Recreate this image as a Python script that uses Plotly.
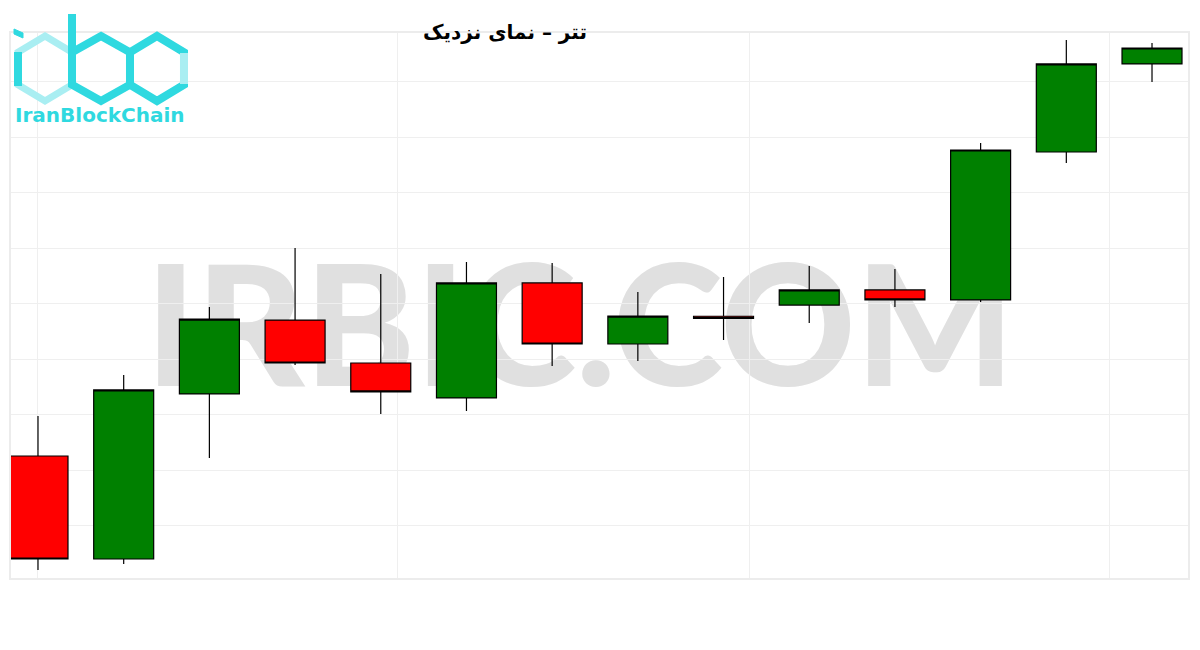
import plotly.graph_objects as go

# ---- data ----
candles = list(range(14))
open_  = [58126, 57198, 58685, 59351, 58964, 58649, 59685, 59135, 59385, 59486, 59622, 59532, 60865, 61658]
high   = [58486, 58856, 59468, 60000, 59766, 59874, 59865, 59604, 59739, 59838, 59811, 60946, 61874, 61847]
low    = [57099, 57153, 58108, 58946, 58504, 58532, 58937, 58982, 59171, 59324, 59468, 59514, 60766, 61496]
close  = [57198, 58721, 59360, 58964, 58703, 59685, 59135, 59387, 59365, 59622, 59532, 60883, 61658, 61802]

grid_x = [0, 4.2, 8.3, 12.5]
title_text = "تتر – نمای نزدیک"
watermark = "IRBIC.COM"
logo_text = "IranBlockChain"

W, H = 1200, 650
L, R, T, B = 11, 12, 33, 72
pw, ph = W - L - R, H - T - B


def px(x):
    return (x - L) / pw


def py(y):
    return 1 - (y - T) / ph


fig = go.Figure()
fig.add_trace(go.Candlestick(
    x=candles, open=open_, high=high, low=low, close=close,
    increasing=dict(fillcolor="#008000", line=dict(color="black", width=1.2)),
    decreasing=dict(fillcolor="#ff0000", line=dict(color="black", width=1.2)),
    whiskerwidth=0, showlegend=False, hoverinfo="skip",
))

shapes = []
# watermark text behind the candles
shapes.append(dict(
    type="rect", xref="paper", yref="paper",
    x0=px(100), x1=px(1060), y0=py(385), y1=py(253),
    line=dict(width=0), fillcolor="rgba(0,0,0,0)", layer="below",
    label=dict(text=watermark, font=dict(family="Lato", size=167, color="#e0e0e0", weight=900),
               textposition="middle center"),
))


# logo hexagons
def hexpath(cx, top, bot, half_w):
    h = bot - top
    pts = [(cx, top), (cx + half_w, top + h * 0.25), (cx + half_w, top + h * 0.75),
           (cx, bot), (cx - half_w, top + h * 0.75), (cx - half_w, top + h * 0.25)]
    return "M " + " L ".join(f"{px(a):.5f},{py(b):.5f}" for a, b in pts) + " Z"


def seg(points):
    return "M " + " L ".join(f"{px(a):.5f},{py(b):.5f}" for a, b in points)


cyan = "#2fd9e0"
light = "#a9eef2"
shapes.append(dict(type="path", xref="paper", yref="paper", path=hexpath(45, 36, 101, 27),
                   line=dict(color=light, width=7), layer="above"))
shapes.append(dict(type="path", xref="paper", yref="paper", path=hexpath(101, 36, 101, 29),
                   line=dict(color=cyan, width=8), layer="above"))
shapes.append(dict(type="path", xref="paper", yref="paper", path=hexpath(157, 36, 101, 27),
                   line=dict(color=cyan, width=8), layer="above"))
shapes.append(dict(type="path", xref="paper", yref="paper", path=seg([(184, 53), (184, 84)]),
                   line=dict(color=light, width=8), layer="above"))
shapes.append(dict(type="path", xref="paper", yref="paper", path=seg([(18, 52), (18, 86)]),
                   line=dict(color=cyan, width=8), layer="above"))
shapes.append(dict(type="path", xref="paper", yref="paper", path=seg([(72, 14), (72, 52)]),
                   line=dict(color=cyan, width=8), layer="above"))
shapes.append(dict(type="path", xref="paper", yref="paper",
                   path=f"M {px(14):.5f},{py(29):.5f} L {px(23):.5f},{py(33):.5f} L {px(23):.5f},{py(38):.5f} L {px(14):.5f},{py(34):.5f} Z",
                   line=dict(color=cyan, width=1), fillcolor=cyan, layer="above"))

fig.update_layout(
    width=W, height=H,
    margin=dict(l=L, r=R, t=T, b=B),
    paper_bgcolor="white", plot_bgcolor="white",
    boxgap=0.3, boxgroupgap=0,
    shapes=shapes,
    annotations=[
        dict(text=f"<b>{title_text}</b>", xref="paper", yref="paper", x=px(505), y=py(32),
             xanchor="center", yanchor="middle", showarrow=False,
             font=dict(family="DejaVu Sans", size=20, color="black")),
        dict(text=f"<b>{logo_text}</b>", xref="paper", yref="paper", x=px(100), y=py(115),
             xanchor="center", yanchor="middle", showarrow=False,
             font=dict(family="DejaVu Sans", size=20, color=cyan)),
    ],
    xaxis=dict(range=[-0.315, 13.42], tickvals=grid_x, showticklabels=False, ticks="",
               showgrid=True, gridcolor="#efefef", gridwidth=1, zeroline=False,
               rangeslider=dict(visible=False), showline=True, mirror=True,
               linecolor="#ececec", linewidth=2, fixedrange=True),
    yaxis=dict(range=[57027, 61937], dtick=500, showticklabels=False, ticks="",
               showgrid=True, gridcolor="#efefef", gridwidth=1, zeroline=False,
               showline=True, mirror=True, linecolor="#ececec", linewidth=2),
)

fig.write_html("out.html", config={"displayModeBar": False},
               post_script="document.body.style.margin='0';document.body.style.overflow='hidden';")
